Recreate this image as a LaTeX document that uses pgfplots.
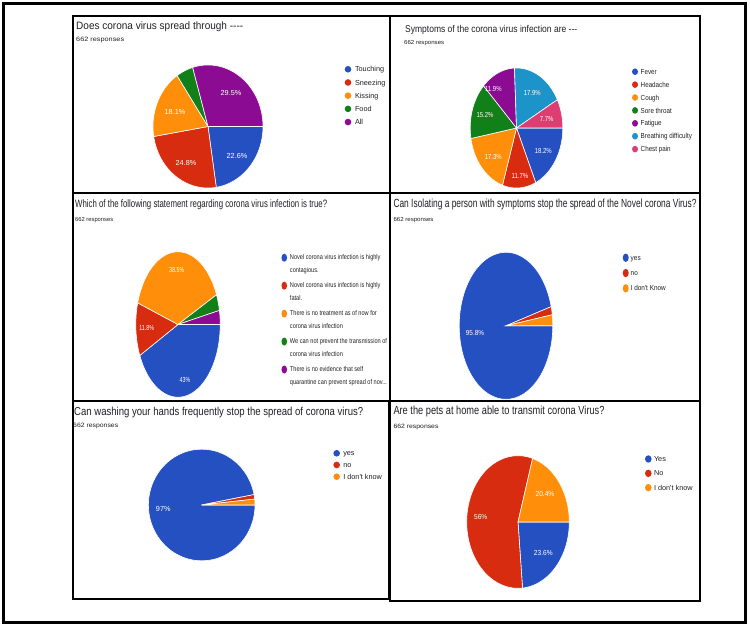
\documentclass[border=0pt]{standalone}
\usepackage{fontspec}
\setmainfont{Liberation Sans}
\usepackage{graphicx}
\usepackage{pgfplots}
\pgfplotsset{compat=1.18}
\newfontfamily\fsA[FakeStretch=1.00]{Liberation Sans}
\newfontfamily\fsB[FakeStretch=0.86]{Liberation Sans}
\newfontfamily\fsC[FakeStretch=0.80]{Liberation Sans}
\newfontfamily\fsD[FakeStretch=0.88]{Liberation Sans}
\newfontfamily\fsE[FakeStretch=0.82]{Liberation Sans}
\newfontfamily\fsF[FakeStretch=0.73]{Liberation Sans}
\newfontfamily\fsG[FakeStretch=0.90]{Liberation Sans}
\definecolor{gblue}{HTML}{2450C2}
\definecolor{gred}{HTML}{D72C10}
\definecolor{gorange}{HTML}{FF8F0A}
\definecolor{ggreen}{HTML}{118019}
\definecolor{gpurple}{HTML}{8C0B93}
\definecolor{gteal}{HTML}{1C93C9}
\definecolor{gpink}{HTML}{DD3D70}
\definecolor{gtext}{HTML}{202124}
% slice: cx, cy, rx, ry (pixels), from %, to % (cumulative, clockwise from 3 o'clock), colour
\newcommand{\pieslice}[7]{%
  \addplot[fill=#7, draw=white, line width=0.6pt, domain=-3.6*#6:-3.6*#5, samples=90, variable=\t]
    ({#1+#3*cos(\t)},{#2-#4*sin(\t)}) -- (axis cs:#1,#2) -- cycle;}
\pgfplotsset{
  pieaxis/.style={width=750pt, height=626pt, scale only axis, xmin=0, xmax=750, ymin=0, ymax=626,
    y dir=reverse, hide axis, clip=false, at={(0pt,0pt)}, anchor=south west, legend cell align=left},
}
\newcommand{\ttl}[5]{\node[anchor=north west, inner sep=0pt, text=gtext] at (axis cs:#1,#2) {\resizebox*{#3pt}{#4pt}{#5}};}
\newcommand{\sttop}{\rule{0pt}{5.1pt}}
\newcommand{\stbot}{\rule[-1.6pt]{0pt}{1.6pt}}
\begin{document}
\begin{tikzpicture}
\path[use as bounding box, fill=white] (0pt,0pt) rectangle (750pt,626pt);
% ---------------- Panel 1
\begin{axis}[pieaxis,
  legend image code/.code={\fill[#1,draw=none] (0pt,0pt) ellipse (3.3pt and 3.3pt);},
  legend style={at={(axis description cs:0.4596,0.8946)}, anchor=north west, draw=none, fill=none,
    inner sep=0pt, outer sep=0pt, row sep=6.6pt, column sep=3.7pt,
    font=\fsA\fontsize{7.3}{8}\selectfont, text=gtext,
    nodes={inner sep=0pt, text height=5.2pt, text depth=0pt}}]
\pieslice{208}{126.5}{55}{61.5}{0}{22.6}{gblue}\addlegendentry{Touching}
\pieslice{208}{126.5}{55}{61.5}{22.6}{47.4}{gred}\addlegendentry{Sneezing}
\pieslice{208}{126.5}{55}{61.5}{47.4}{65.5}{gorange}\addlegendentry{Kissing}
\pieslice{208}{126.5}{55}{61.5}{65.5}{70.5}{ggreen}\addlegendentry{Food}
\pieslice{208}{126.5}{55}{61.5}{70.5}{100}{gpurple}\addlegendentry{All}
\begin{scope}[every node/.style={text=white, font=\fsA\fontsize{7.3}{8}\selectfont}]
\node at (axis cs:231,93) {29.5\%};
\node at (axis cs:175,112) {18.1\%};
\node at (axis cs:237,156) {22.6\%};
\node at (axis cs:186,163) {24.8\%};
\end{scope}
\ttl{76}{21.5}{167}{10}{Does corona virus spread through -{}-{}-{}-}
\ttl{76}{37}{48}{5.7}{662 responses}
\end{axis}
% ---------------- Panel 2
\begin{axis}[pieaxis,
  legend image code/.code={\fill[#1,draw=none] (0pt,0pt) ellipse (3pt and 3.3pt);},
  legend style={at={(axis description cs:0.8427,0.8907)}, anchor=north west, draw=none, fill=none,
    inner sep=0pt, outer sep=0pt, row sep=6.3pt, column sep=2.7pt,
    font=\fsB\fontsize{7.3}{8}\selectfont, text=gtext,
    nodes={inner sep=0pt, text height=5.2pt, text depth=0pt}}]
\pieslice{516.5}{128}{46.3}{60}{0}{18.2}{gblue}\addlegendentry{Fever}
\pieslice{516.5}{128}{46.3}{60}{18.2}{29.9}{gred}\addlegendentry{Headache}
\pieslice{516.5}{128}{46.3}{60}{29.9}{47.2}{gorange}\addlegendentry{Cough}
\pieslice{516.5}{128}{46.3}{60}{47.2}{62.4}{ggreen}\addlegendentry{Sore throat}
\pieslice{516.5}{128}{46.3}{60}{62.4}{74.3}{gpurple}\addlegendentry{Fatigue}
\pieslice{516.5}{128}{46.3}{60}{74.3}{92.2}{gteal}\addlegendentry{Breathing difficulty}
\pieslice{516.5}{128}{46.3}{60}{92.2}{100}{gpink}\addlegendentry{Chest pain}
\begin{scope}[every node/.style={text=white, font=\fsE\fontsize{7.3}{8}\selectfont}]
\node at (axis cs:493.3,89.3) {11.9\%};
\node at (axis cs:532.3,92.7) {17.9\%};
\node at (axis cs:485,115) {15.2\%};
\node at (axis cs:546.7,119.3) {7.7\%};
\node at (axis cs:493.3,156.7) {17.3\%};
\node at (axis cs:543.3,150.7) {18.2\%};
\node at (axis cs:520,176) {11.7\%};
\end{scope}
\ttl{405}{24.8}{172}{9.2}{Symptoms of the corona virus infection are -{}-{}-}
\ttl{404}{40.5}{40}{5.3}{662 responses}
\end{axis}
% ---------------- Panel 3
\begin{axis}[pieaxis,
  legend image code/.code={\fill[#1,draw=none] (0pt,6.6pt) ellipse (2.8pt and 4pt);},
  legend style={at={(axis description cs:0.3753,0.5947)}, anchor=north west, draw=none, fill=none,
    inner sep=0pt, outer sep=0pt, row sep=7.9pt, column sep=2.9pt,
    font=\fsC\fontsize{7}{12.3}\selectfont, text=gtext,
    nodes={inner sep=0pt, align=left}}]
\pieslice{178}{324.5}{42.2}{72.7}{0}{43}{gblue}\addlegendentry{\sttop Novel corona virus infection is highly\\contagious.\stbot}
\pieslice{178}{324.5}{42.2}{72.7}{43}{54.8}{gred}\addlegendentry{\sttop Novel corona virus infection is highly\\fatal.\stbot}
\pieslice{178}{324.5}{42.2}{72.7}{54.8}{93.3}{gorange}\addlegendentry{\sttop There is no treatment as of now for\\corona virus infection\stbot}
\pieslice{178}{324.5}{42.2}{72.7}{93.3}{96.9}{ggreen}\addlegendentry{\sttop We can not prevent the transmission of\\corona virus infection\stbot}
\pieslice{178}{324.5}{42.2}{72.7}{96.9}{100}{gpurple}\addlegendentry{\sttop There is no evidence that self\\quarantine can prevent spread of nov...\stbot}
\begin{scope}[every node/.style={text=white, font=\fsF\fontsize{7.3}{8}\selectfont}]
\node at (axis cs:176.7,270) {38.5\%};
\node at (axis cs:146.7,328.3) {11.8\%};
\node at (axis cs:185,380) {43\%};
\end{scope}
\ttl{75}{199.5}{252}{10}{Which of the following statement regarding corona virus infection is true?}
\ttl{75}{217.5}{38}{5.3}{662 responses}
\end{axis}
% ---------------- Panel 4
\begin{axis}[pieaxis,
  legend image code/.code={\fill[#1,draw=none] (0pt,0pt) ellipse (3pt and 4.2pt);},
  legend style={at={(axis description cs:0.8303,0.5950)}, anchor=north west, draw=none, fill=none,
    inner sep=0pt, outer sep=0pt, row sep=6.9pt, column sep=2pt,
    font=\fsD\fontsize{7.3}{8}\selectfont, text=gtext,
    nodes={inner sep=0pt, text height=5.2pt, text depth=0pt}}]
\pieslice{506}{325.8}{46.8}{73.5}{0}{95.8}{gblue}\addlegendentry{yes}
\pieslice{506}{325.8}{46.8}{73.5}{95.8}{97.6}{gred}\addlegendentry{no}
\pieslice{506}{325.8}{46.8}{73.5}{97.6}{100}{gorange}\addlegendentry{I don't Know}
\node[text=white, font=\fsD\fontsize{7.3}{8}\selectfont] at (axis cs:475,333.3) {95.8\%};
\ttl{393.3}{198.3}{303}{11}{Can Isolating a person with symptoms stop the spread of the Novel corona Virus?}
\ttl{393.3}{217.5}{40}{5.3}{662 responses}
\end{axis}
% ---------------- Panel 5
\begin{axis}[pieaxis,
  legend image code/.code={\fill[#1,draw=none] (0pt,0pt) ellipse (3.3pt and 3.3pt);},
  legend style={at={(axis description cs:0.4445,0.2812)}, anchor=north west, draw=none, fill=none,
    inner sep=0pt, outer sep=0pt, row sep=5.1pt, column sep=3.3pt,
    font=\fsA\fontsize{7.3}{8}\selectfont, text=gtext,
    nodes={inner sep=0pt, text height=5.2pt, text depth=0pt}}]
\pieslice{201.7}{505}{53.3}{55.8}{0}{97}{gblue}\addlegendentry{yes}
\pieslice{201.7}{505}{53.3}{55.8}{97}{98.3}{gred}\addlegendentry{no}
\pieslice{201.7}{505}{53.3}{55.8}{98.3}{100}{gorange}\addlegendentry{I don't know}
\node[text=white, font=\fsA\fontsize{7.3}{8}\selectfont] at (axis cs:163.3,509) {97\%};
\ttl{74}{406.5}{289}{10.7}{Can washing your hands frequently stop the spread of corona virus?}
\ttl{73}{422.5}{45}{5.7}{662 responses}
\end{axis}
% ---------------- Panel 6
\begin{axis}[pieaxis,
  legend image code/.code={\fill[#1,draw=none] (0pt,0pt) ellipse (3.3pt and 3.7pt);},
  legend style={at={(axis description cs:0.86,0.2727)}, anchor=north west, draw=none, fill=none,
    inner sep=0pt, outer sep=0pt, row sep=6.95pt, column sep=2.4pt,
    font=\fsA\fontsize{7.3}{8}\selectfont, text=gtext,
    nodes={inner sep=0pt, text height=5.2pt, text depth=0pt}}]
\pieslice{518}{522}{51.3}{66.3}{0}{23.6}{gblue}\addlegendentry{Yes}
\pieslice{518}{522}{51.3}{66.3}{23.6}{79.6}{gred}\addlegendentry{No}
\pieslice{518}{522}{51.3}{66.3}{79.6}{100}{gorange}\addlegendentry{I don't know}
\begin{scope}[every node/.style={text=white, font=\fsG\fontsize{7.3}{8}\selectfont}]
\node at (axis cs:480.7,517.3) {56\%};
\node at (axis cs:545,494.3) {20.4\%};
\node at (axis cs:543.3,552.7) {23.6\%};
\end{scope}
\ttl{393.3}{406}{211}{11}{Are the pets at home able to transmit corona Virus?}
\ttl{393.3}{423.5}{45}{5.6}{662 responses}
% panel frames
\draw[line width=1.6pt] (axis cs:73,16) rectangle (axis cs:390,193);
\draw[line width=1.6pt] (axis cs:390,16) rectangle (axis cs:700,193);
\draw[line width=1.6pt] (axis cs:73,193) rectangle (axis cs:390,401);
\draw[line width=1.6pt] (axis cs:390,193) rectangle (axis cs:700,401);
\draw[line width=1.6pt] (axis cs:73,401) rectangle (axis cs:389,599);
\draw[line width=1.6pt] (axis cs:390,401) rectangle (axis cs:700,601);
\draw[line width=3pt] (axis cs:3.5,3.5) rectangle (axis cs:745.5,622);
\end{axis}
\end{tikzpicture}
\end{document}
